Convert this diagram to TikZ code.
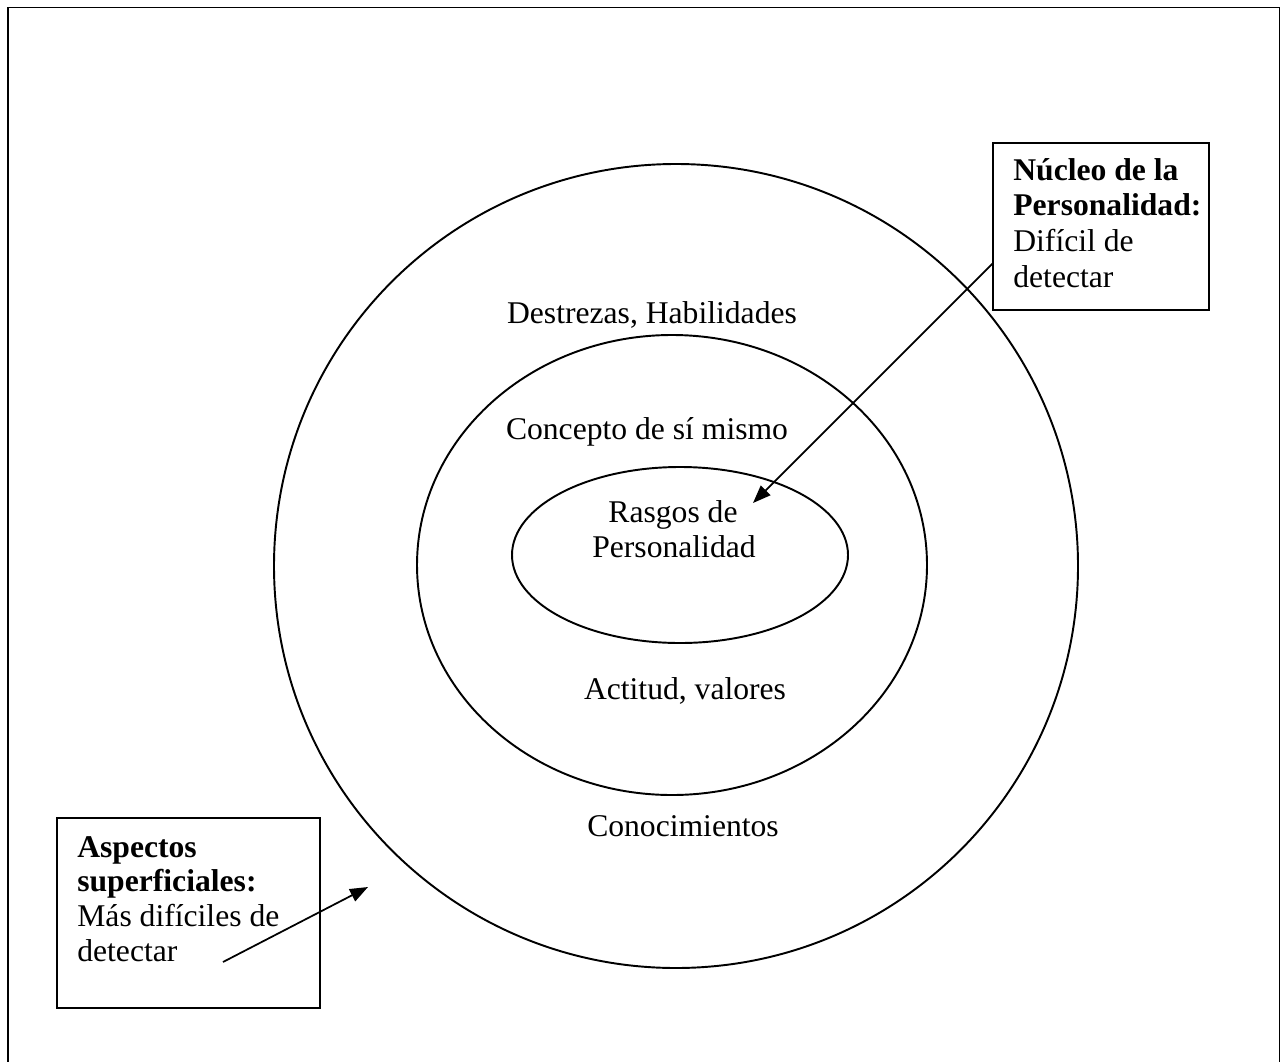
\documentclass[tikz,border=0pt]{standalone}
\usepackage{fontspec}
\setmainfont{Liberation Serif}
\usetikzlibrary{arrows.meta}
\begin{document}
\begin{tikzpicture}[x=0.02cm,y=-0.02cm,
  ring/.style={draw, line width=1.1pt},
  frame/.style={draw, line width=1pt},
  lbl/.style={font=\fontsize{18}{20.5}\selectfont, inner sep=0pt, anchor=base},
  boxtxt/.style={font=\fontsize{18}{20.5}\selectfont, inner sep=0pt, anchor=base west},
  pointer/.style={line width=1pt, -{Triangle[length=0.36cm,width=0.27cm]}}
]
\useasboundingbox (0,0) rectangle (1280,1061);
\clip (0,0) rectangle (1280,1061);
% page frame
\draw[frame] (8,7.5) rectangle (1279.5,1100);

% nested layers
\draw[ring] (676,566) circle [radius=402];
\draw[ring] (672,565) ellipse [x radius=255, y radius=230];
\draw[ring] (680,555) ellipse [x radius=168, y radius=88];

% layer labels
\node[lbl] (destrezas) at (652,323) {Destrezas, Habilidades};
\node[lbl] (concepto) at (647,439) {Concepto de sí mismo};
\node[lbl] (rasgos1) at (673,522) {Rasgos de};
\node[lbl] (rasgos2) at (674,557) {Personalidad};
\node[lbl] (actitud) at (685,699) {Actitud, valores};
\node[lbl] (conoc) at (683,836) {Conocimientos};

% core box
\coordinate (nuc-nw) at (993,143);
\coordinate (nuc-se) at (1209,310);
\draw[frame] (nuc-nw) rectangle (nuc-se);
\node[boxtxt] (nuc1) at (1013,180) {\bfseries Núcleo de la};
\node[boxtxt] (nuc2) at (1013,215) {\bfseries Personalidad:};
\node[boxtxt] (nuc3) at (1013,251) {Difícil de};
\node[boxtxt] (nuc4) at (1013,287) {detectar};

% surface box
\coordinate (sup-nw) at (57,818);
\coordinate (sup-se) at (320,1008);
\draw[frame] (sup-nw) rectangle (sup-se);
\node[boxtxt] (sup1) at (77,857) {\bfseries Aspectos};
\node[boxtxt] (sup2) at (77,891) {\bfseries superficiales:};
\node[boxtxt] (sup3) at (77,926) {Más difíciles de};
\node[boxtxt] (sup4) at (77,961) {detectar};

% pointers
\coordinate (p1s) at (993,263);
\coordinate (p1e) at (753,503);
\draw[pointer] (p1s) -- (p1e);
\coordinate (p2s) at (223,962);
\coordinate (p2e) at (368,887);
\draw[pointer] (p2s) -- (p2e);
\end{tikzpicture}
\end{document}
